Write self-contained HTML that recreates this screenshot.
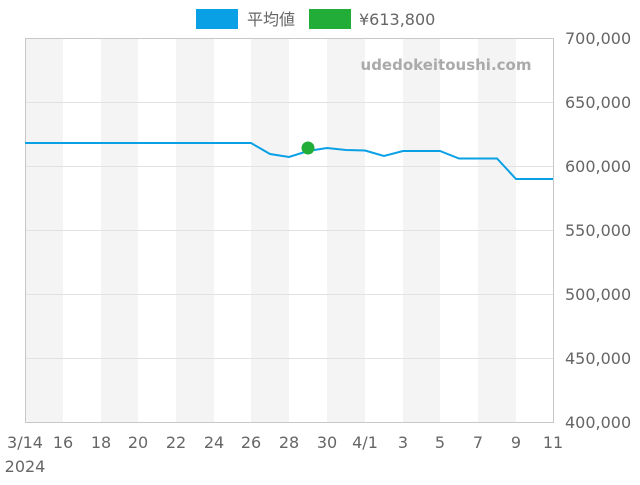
<!DOCTYPE html>
<html><head><meta charset="utf-8"><style>
body{margin:0;background:#fff;width:640px;height:480px;overflow:hidden}
text{font-family:"DejaVu Sans","Noto Sans CJK JP",sans-serif;fill:#666;font-size:16px}
</style></head><body>
<svg width="640" height="480" xmlns="http://www.w3.org/2000/svg">
<g fill="#f4f4f4">
<rect x="25" y="38" width="38" height="384"/>
<rect x="101" y="38" width="37" height="384"/>
<rect x="176" y="38" width="38" height="384"/>
<rect x="251" y="38" width="38" height="384"/>
<rect x="327" y="38" width="38" height="384"/>
<rect x="403" y="38" width="37" height="384"/>
<rect x="478" y="38" width="38" height="384"/>
</g>
<g stroke="#e2e2e2" stroke-width="1">
<line x1="25" x2="553" y1="102.5" y2="102.5"/>
<line x1="25" x2="553" y1="166.5" y2="166.5"/>
<line x1="25" x2="553" y1="230.5" y2="230.5"/>
<line x1="25" x2="553" y1="294.5" y2="294.5"/>
<line x1="25" x2="553" y1="358.5" y2="358.5"/>
</g>
<rect x="25.5" y="38.5" width="528" height="384" fill="none" stroke="#c8c8c8"/>
<text x="446" y="70" text-anchor="middle" style="font-weight:bold;font-size:15px;fill:#aaa">udedokeitoushi.com</text>
<polyline fill="none" stroke="#0aa0e6" stroke-width="2" points="25,143 251,143 270,154 289,157 308,151 327,148 346,150 365,150.5 384,156 403,151 421,151 440,151 459,158.5 497,158.5 516,179 553,179"/>
<circle cx="308" cy="148" r="6.5" fill="#22ad38"/>
<rect x="196" y="9" width="42" height="20" fill="#0aa0e6"/>
<text x="247" y="25">平均値</text>
<rect x="309" y="9" width="42" height="20" fill="#22ad38"/>
<text x="359" y="25">¥613,800</text>
<g text-anchor="start">
<text x="565" y="44">700,000</text>
<text x="565" y="108">650,000</text>
<text x="565" y="172">600,000</text>
<text x="565" y="236">550,000</text>
<text x="565" y="300">500,000</text>
<text x="565" y="364">450,000</text>
<text x="565" y="428">400,000</text>
</g>
<g text-anchor="middle">
<text x="25" y="448">3/14</text>
<text x="63" y="448">16</text>
<text x="101" y="448">18</text>
<text x="138" y="448">20</text>
<text x="176" y="448">22</text>
<text x="214" y="448">24</text>
<text x="251" y="448">26</text>
<text x="289" y="448">28</text>
<text x="327" y="448">30</text>
<text x="365" y="448">4/1</text>
<text x="403" y="448">3</text>
<text x="440" y="448">5</text>
<text x="478" y="448">7</text>
<text x="516" y="448">9</text>
<text x="553" y="448">11</text>
<text x="25" y="472">2024</text>
</g>
</svg>
</body></html>
